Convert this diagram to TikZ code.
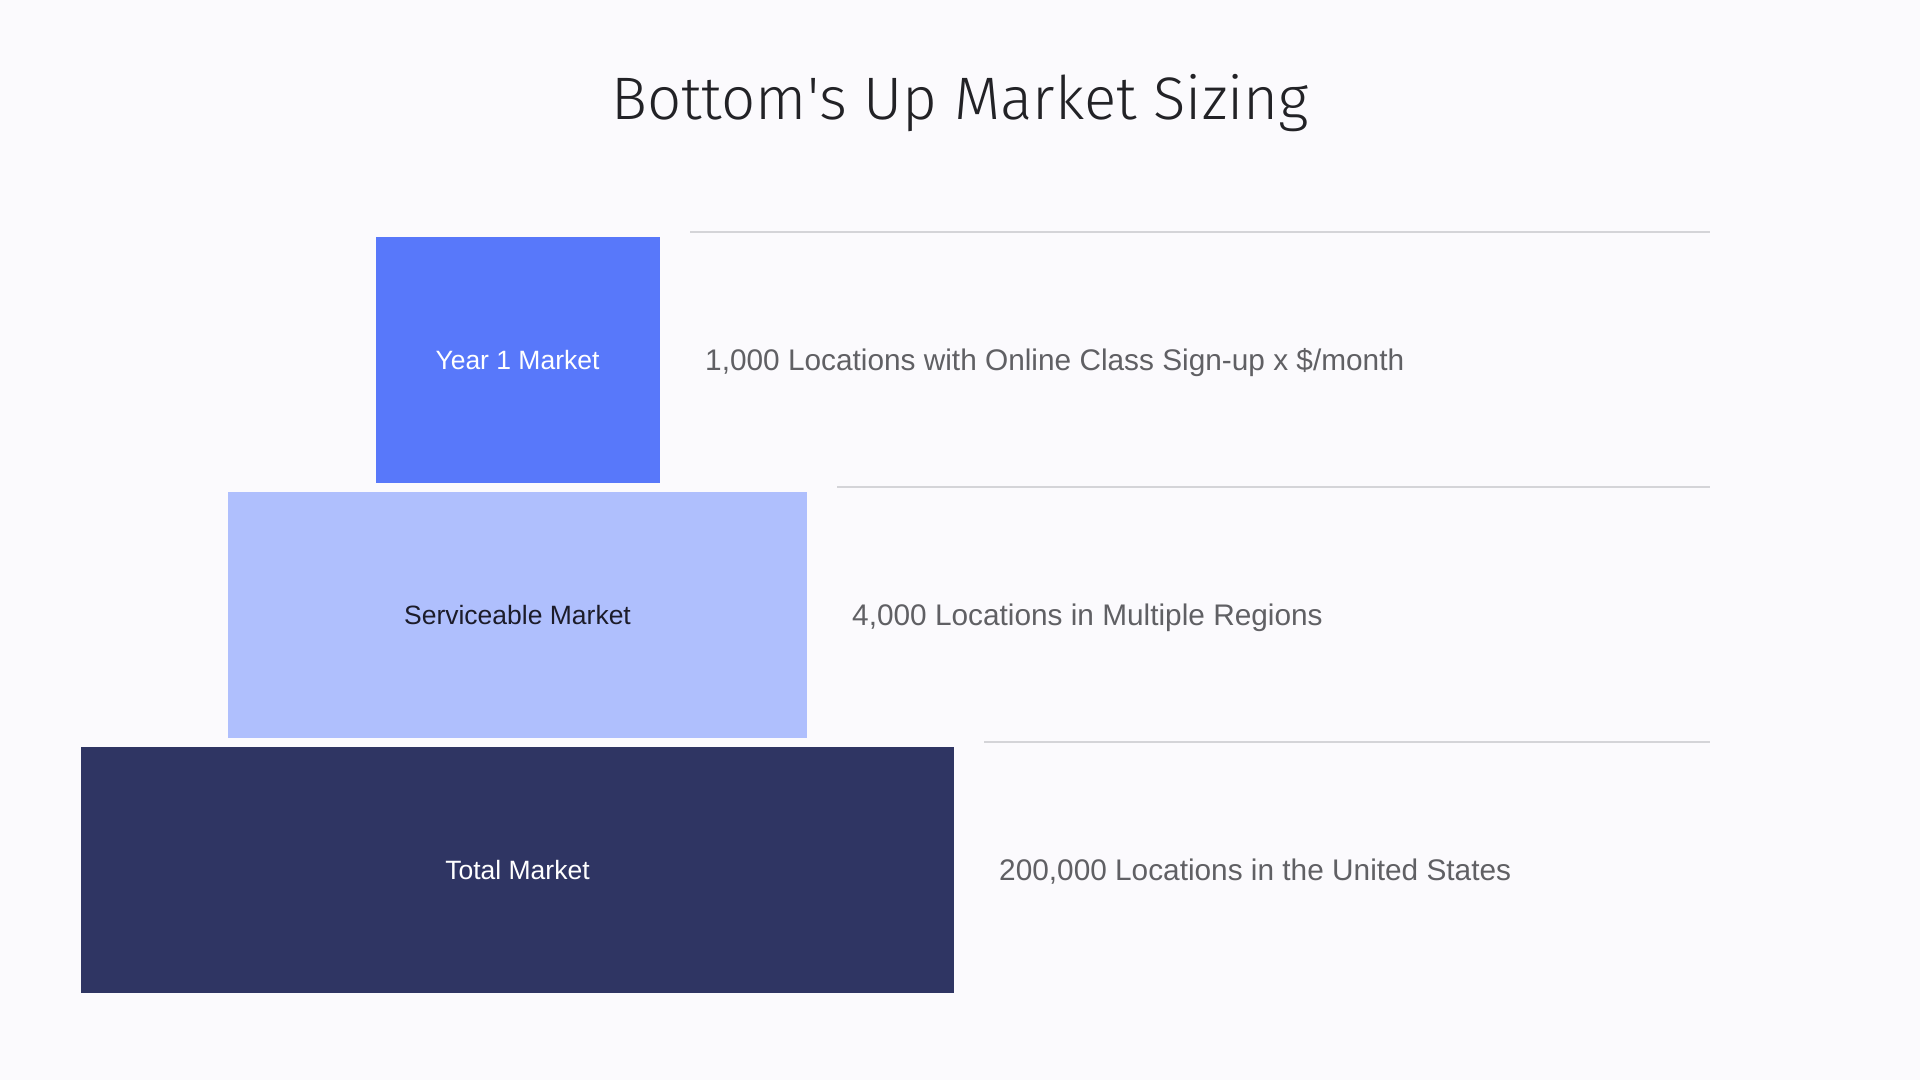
\documentclass[tikz,border=0pt]{standalone}
\usepackage{fontspec}
\setmainfont{Liberation Sans}
\newfontfamily\titlefont{Fira Sans Light}
\definecolor{bgc}{HTML}{FBFAFD}
\definecolor{cyear}{HTML}{5878FA}
\definecolor{cserv}{HTML}{AFBFFD}
\definecolor{ctotal}{HTML}{2F3563}
\definecolor{crule}{HTML}{D4D4D8}
\definecolor{cside}{HTML}{606064}
\definecolor{ctitle}{HTML}{222226}
\definecolor{cdark}{HTML}{1C1C2A}
\begin{document}
\begin{tikzpicture}[x=1pt,y=-1pt,
  tier/.style={rectangle, inner sep=0pt, outer sep=0pt, anchor=north west, draw=none},
  tierlabel/.style={inner sep=0pt, anchor=base, font=\fontsize{26.5}{32}\selectfont},
  sidetext/.style={inner sep=0pt, anchor=base west, text=cside, font=\fontsize{29.8}{36}\selectfont},
  rule/.style={draw=crule, line width=1.5pt}]
\fill[bgc] (0,0) rectangle (1920,1080);
\useasboundingbox (0,0) rectangle (1920,1080);

\node[inner sep=0pt, anchor=base, text=ctitle, font=\titlefont\fontsize{60}{72}\selectfont] (title) at (960,119) {Bottom\textquotesingle s Up Market Sizing};

\node[tier, fill=cyear, minimum width=284pt, minimum height=245.5pt] (year) at (375.5,237) {};
\node[tier, fill=cserv, minimum width=579pt, minimum height=245.5pt] (serv) at (228,492) {};
\node[tier, fill=ctotal, minimum width=873.5pt, minimum height=245.5pt] (total) at (80.5,747) {};

\node[tierlabel, text=white] (yearlab) at (517.5,369.3) {Year 1 Market};
\node[tierlabel, text=cdark] (servlab) at (517.5,624.3) {Serviceable Market};
\node[tierlabel, text=white] (totallab) at (517.5,879.3) {Total Market};

\coordinate (r1a) at (690,232);  \coordinate (r1b) at (1710,232);
\coordinate (r2a) at (837,487);  \coordinate (r2b) at (1710,487);
\coordinate (r3a) at (984,742);  \coordinate (r3b) at (1710,742);
\draw[rule] (r1a) -- (r1b);
\draw[rule] (r2a) -- (r2b);
\draw[rule] (r3a) -- (r3b);

\node[sidetext] (yeartxt) at (705,370.7) {1,000 Locations with Online Class Sign-up x \$/month};
\node[sidetext] (servtxt) at (852,625.7) {4,000 Locations in Multiple Regions};
\node[sidetext] (totaltxt) at (999,880.7) {200,000 Locations in the United States};
\end{tikzpicture}
\end{document}
